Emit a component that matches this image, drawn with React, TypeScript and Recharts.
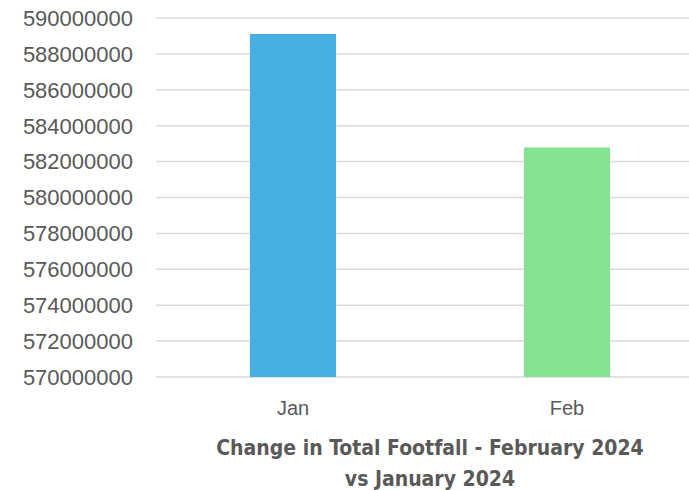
import React from 'react';
import { BarChart, Bar, Cell, XAxis, YAxis, CartesianGrid, Label } from 'recharts';

const months = ['Jan', 'Feb'];
const footfall = [589110000, 582780000];
const barColors = ['#46B1E1', '#84E291'];
const yTicks = [
  570000000, 572000000, 574000000, 576000000, 578000000, 580000000,
  582000000, 584000000, 586000000, 588000000, 590000000,
];
const titleLines = ['Change in Total Footfall - February 2024', 'vs January 2024'];

const data = months.map((m, i) => ({ name: m, value: footfall[i] }));

const TitleLabel = (props: any) => {
  const { viewBox } = props;
  const cx = viewBox.x + viewBox.width / 2;
  const top = viewBox.y;
  return (
    <text
      textAnchor="middle"
      fill="#595959"
      style={{ fontFamily: '"Liberation Sans Narrow", "DejaVu Sans Condensed", sans-serif', fontWeight: 700, fontSize: 21 }}
    >
      <tspan x={cx} y={top + 78}>{titleLines[0]}</tspan>
      <tspan x={cx} y={top + 109}>{titleLines[1]}</tspan>
    </text>
  );
};

export default function App() {
  return (
    <div style={{ position: 'absolute', left: 0, top: 0, width: 689, height: 490, overflow: 'hidden', background: '#fff' }}>
      <BarChart
        width={710}
        height={490}
        data={data}
        margin={{ top: 18, right: 6, left: 0, bottom: 10 }}
        barSize={86}
      >
        <CartesianGrid horizontal vertical={false} stroke="#d9d9d9" strokeWidth={1.5} />
        <XAxis
          dataKey="name"
          axisLine={false}
          tickLine={false}
          tickSize={0}
          tickMargin={24}
          height={103}
          tick={{ fill: '#595959', fontSize: 20, fontFamily: '"Liberation Sans", Arial, sans-serif' }}
        >
          <Label content={<TitleLabel />} />
        </XAxis>
        <YAxis
          domain={[570000000, 590000000]}
          ticks={yTicks}
          interval={0}
          width={156}
          axisLine={false}
          tickLine={false}
          tickSize={0}
          tickMargin={23}
          tick={{ fill: '#595959', fontSize: 22, fontFamily: '"Liberation Sans", Arial, sans-serif' }}
        />
        <Bar dataKey="value" isAnimationActive={false}>
          {data.map((d, i) => (
            <Cell key={d.name} fill={barColors[i]} />
          ))}
        </Bar>
      </BarChart>
    </div>
  );
}
